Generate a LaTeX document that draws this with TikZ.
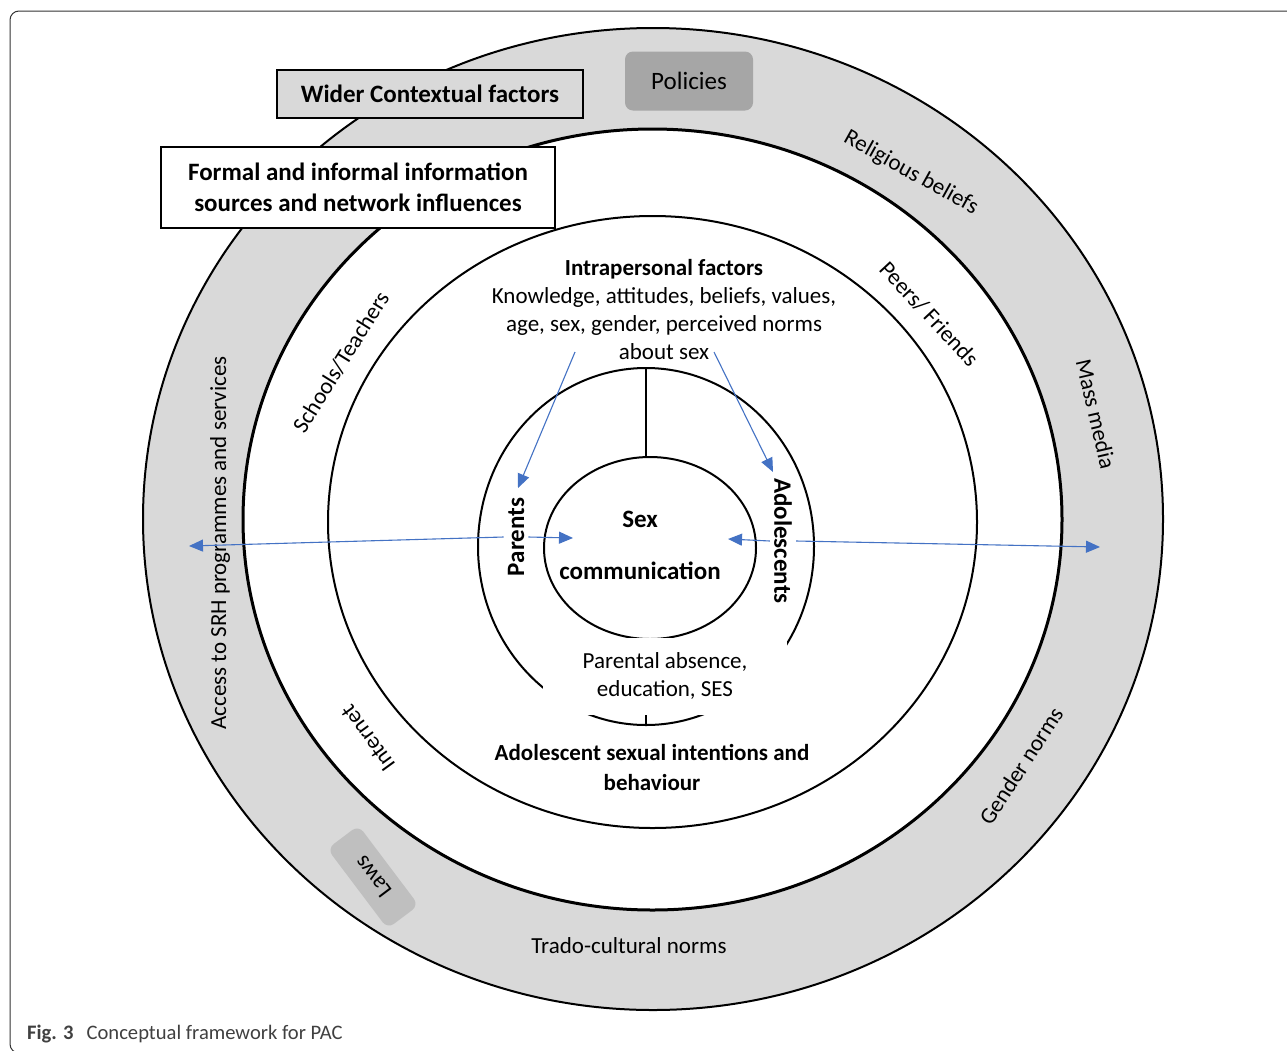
\documentclass[tikz,border=0pt]{standalone}
\usepackage{fontspec}
\setmainfont{Carlito}
\usetikzlibrary{shapes.geometric, arrows.meta}

\definecolor{ringgray}{HTML}{D9D9D9}
\definecolor{policygray}{HTML}{A6A6A6}
\definecolor{lawgray}{HTML}{BFBFBF}
\definecolor{linkblue}{HTML}{4472C4}

\begin{document}
\begin{tikzpicture}[x=1pt, y=-1pt,
    layer/.style={ellipse, draw, line width=2pt, inner sep=0pt},
    ringlabel/.style={font=\fontsize{23}{28}\selectfont},
    actor/.style={font=\fontsize{25}{30}\selectfont\bfseries, inner sep=4pt},
    framebox/.style={draw, line width=2pt, align=center, font=\fontsize{25}{31}\selectfont\bfseries},
    tag/.style={rounded corners=8pt, font=\fontsize{25}{30}\selectfont},
    link/.style={draw=linkblue, line width=1.1pt, -{Triangle[length=14pt, width=12pt]}}]

        % Frame of the figure
        \useasboundingbox (0,0) rectangle (1287,1050);
        \draw[line width=1pt, black!80, rounded corners=9pt] (10,11) rectangle (1320,1053);

        % Define the layers
        \node[layer, fill=ringgray, minimum width=1020pt, minimum height=982pt] (outerring) at (653,519) {};
        \node[layer, fill=white, line width=3pt, minimum width=819pt, minimum height=781pt] (netring) at (652.5,519.5) {};
        \node[layer, minimum width=649pt, minimum height=612pt] (intraring) at (652.5,522) {};
        \node[layer, minimum width=336pt, minimum height=357pt] (dyad) at (646,546.5) {};
        \node[layer, minimum width=212pt, minimum height=182pt] (core) at (650,548) {};

        % Lines between the inner layers
        \draw[line width=2pt] (dyad.north) -- (dyad.north |- core.north);
        \draw[line width=2pt] (dyad.south |- core.south) -- (dyad.south);

        % Parental factors
        \node[fill=white, minimum width=244pt, minimum height=77pt, align=center,
              font=\fontsize{23}{28}\selectfont] (parental) at (665,676) {Parental absence,\\education, SES};

        % Annotations for the inner layers
        \node[align=center, font=\fontsize{23}{28}\selectfont] (intra) at (664,310)
            {\textbf{Intrapersonal factors}\\Knowledge, attitudes, beliefs, values,\\age, sex, gender, perceived norms\\about sex};
        \node[align=center, font=\fontsize{25}{52}\selectfont\bfseries] (sexcomm) at (640,545) {Sex\\communication};
        \node[actor, rotate=90] (parents) at (516,537) {Parents};
        \node[actor, rotate=-90] (adol) at (783,541) {Adolescents};
        \node[align=center, font=\fontsize{23}{30}\selectfont\bfseries] (outcome) at (652,767)
            {Adolescent sexual intentions and\\behaviour};

        % Network influences
        \node[ringlabel, rotate=58] (schools) at (341,362) {Schools/Teachers};
        \node[ringlabel, rotate=-47] (peers) at (929,314) {Peers/ Friends};
        \node[ringlabel, rotate=126] (internet) at (368,738) {Internet};

        % Wider contextual factors
        \node[ringlabel, rotate=-29] (religion) at (911,173) {Religious beliefs};
        \node[ringlabel, rotate=-77] (media) at (1096,414) {Mass media};
        \node[ringlabel, rotate=57] (gender) at (1021,766) {Gender norms};
        \node[ringlabel] (trado) at (629,946) {Trado-cultural norms};
        \node[ringlabel, rotate=90] (srh) at (220,543) {Access to SRH programmes and services};
        \node[tag, fill=policygray, minimum width=128pt, minimum height=59pt] (policies) at (689,81) {Policies};
        \node[tag, fill=lawgray, rotate=127, minimum width=100pt, minimum height=39pt,
              font=\fontsize{23}{28}\selectfont] (laws) at (373,877) {Laws};

        % Titles of the layers
        \node[framebox, fill=ringgray, minimum width=306pt, minimum height=48pt] (widerlbl) at (430,94) {Wider Contextual factors};
        \node[framebox, fill=white, minimum width=394pt, minimum height=81pt] (formal) at (358,187.5)
            {Formal and informal information\\sources and network influences};

        % Arrows
        \coordinate (knowL) at (575,352);
        \coordinate (knowR) at (714,352);
        \coordinate (parenttip) at (518,488);
        \coordinate (adoltip) at (773,472);
        \coordinate (coreL) at (573,538);
        \coordinate (coreR) at (728,539);
        \coordinate (srhtip) at (189,546);
        \coordinate (mediatip) at (1100,547);

        \draw[link] (knowL) -- (parenttip);
        \draw[link] (knowR) -- (adoltip);
        \draw[link] (parents.south) -- (coreL);
        \draw[link] (adol.south) -- (coreR);
        \draw[link] (parents.north) -- (srhtip);
        \draw[link] (adol.north) -- (mediatip);

        % Caption
        \node[anchor=base west, inner sep=0pt, text=black!75, font=\fontsize{20.6}{24}\selectfont] (caption) at (27,1039)
            {\textbf{Fig. 3}\hspace{13pt}Conceptual framework for PAC};

\end{tikzpicture}
\end{document}
